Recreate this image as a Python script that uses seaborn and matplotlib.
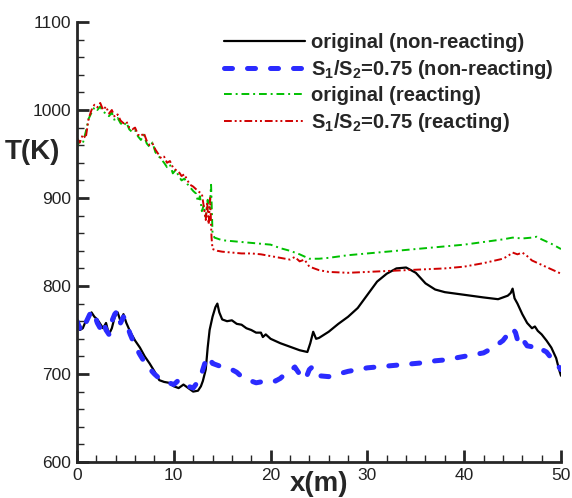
import numpy as np
import pandas as pd
import seaborn as sns
import matplotlib
matplotlib.use("Agg")
import matplotlib.pyplot as plt
from matplotlib.ticker import MultipleLocator

# ---- data: temperature along the channel ----
x_orig_nr = [0, 0.3, 0.6, 0.9, 1.2, 1.5, 1.8, 2.1, 2.4, 2.7, 3.0, 3.3, 3.6, 3.9, 4.2, 4.5, 4.8, 5.1,
             5.5, 6, 6.5, 7, 7.5, 8, 8.5, 9, 9.5, 10, 10.5, 11, 11.5, 12, 12.5, 12.8, 13, 13.3, 13.5,
             13.7, 14, 14.3, 14.5, 14.7, 15, 15.5, 16, 16.5, 17, 17.5, 18, 18.5, 19, 19.2, 19.5, 20,
             21, 22, 23, 23.8, 24.1, 24.4, 24.7, 25, 26, 27, 28, 29, 30, 31, 32, 33, 34, 35, 36, 37,
             38, 40, 42, 43.5, 44.5, 44.8, 45, 45.2, 45.5, 46, 46.5, 47, 47.3, 47.6, 48, 48.5, 49,
             49.5, 49.8, 50]
T_orig_nr = [758, 750, 752, 760, 765, 770, 765, 762, 757, 752, 758, 745, 752, 765, 770, 760, 768, 758,
             748, 738, 730, 720, 712, 703, 693, 691, 690, 686, 684, 688, 684, 680, 681, 686, 692, 705,
             730, 750, 765, 776, 780, 770, 762, 760, 761, 757, 756, 752, 750, 747, 747, 742, 745, 740,
             735, 731, 727, 725, 735, 748, 740, 741, 748, 757, 765, 775, 790, 805, 814, 820, 821, 815,
             803, 796, 793, 790, 787, 785, 789, 792, 797, 786, 780, 768, 758, 752, 754, 749, 745, 738,
             730, 718, 705, 698]

x_s075_nr = [0, 0.3, 0.6, 0.9, 1.2, 1.5, 1.8, 2.1, 2.4, 2.7, 3.0, 3.3, 3.6, 3.9, 4.2, 4.5, 4.8, 5.1,
             5.5, 6, 6.5, 7, 7.5, 8, 8.5, 9, 9.5, 10, 10.5, 11, 11.5, 12, 12.4, 12.8, 13.2, 13.5, 13.8,
             14, 14.5, 15, 15.5, 16, 16.5, 17, 17.5, 18, 18.5, 19, 19.5, 20, 20.5, 21, 21.5, 22, 22.5,
             22.8, 23.2, 23.6, 24, 24.3, 24.6, 25, 26, 27, 28, 29, 30, 31, 32, 33, 34, 35, 36, 37, 38,
             39, 40, 41, 42, 43, 44, 44.5, 45, 45.3, 45.6, 46, 46.5, 47, 47.5, 48, 48.5, 49, 49.5, 50]
T_s075_nr = [760, 752, 762, 758, 765, 772, 768, 758, 752, 760, 750, 745, 760, 768, 772, 758, 765, 758,
             745, 732, 722, 713, 706, 700, 695, 692, 690, 688, 693, 688, 686, 684, 690, 698, 712, 720,
             716, 712, 710, 708, 706, 705, 702, 697, 695, 692, 690, 691, 692, 693, 692, 695, 700, 703,
             708, 703, 697, 694, 705, 708, 700, 698, 697, 700, 703, 705, 707, 708, 709, 710, 711, 712,
             713, 715, 716, 718, 720, 722, 724, 730, 738, 745, 752, 747, 735, 740, 732, 731, 733, 728,
             725, 718, 712, 705]

x_orig_r = [0, 0.3, 0.6, 0.9, 1.2, 1.5, 1.8, 2.1, 2.4, 2.7, 3.0, 3.3, 3.6, 3.9, 4.2, 4.5, 4.8, 5.1,
            5.4, 5.7, 6.0, 6.3, 6.6, 6.9, 7.2, 7.5, 7.8, 8.1, 8.4, 8.7, 9.0, 9.3, 9.6, 9.9, 10.2, 10.5,
            10.8, 11.1, 11.4, 11.7, 12.0, 12.3, 12.5, 12.7, 12.9, 13.1, 13.3, 13.5, 13.7, 13.85, 14.0,
            14.2, 15, 16, 17, 18, 19, 20, 21, 22, 23, 24, 25, 26, 28, 30, 32, 34, 36, 38, 40, 42, 44,
            45, 46, 47, 47.5, 48, 49, 50]
T_orig_r = [958, 965, 962, 975, 990, 997, 1003, 1000, 1004, 998, 996, 993, 997, 988, 991, 985, 982, 986,
            978, 975, 977, 970, 966, 972, 962, 958, 963, 952, 948, 944, 940, 935, 938, 928, 932, 925,
            920, 922, 916, 912, 908, 905, 896, 902, 885, 892, 878, 898, 888, 915, 860,
            855, 852, 851, 850, 849, 848, 847, 843, 840, 836, 831, 831, 832, 835, 837, 839, 841, 843,
            845, 847, 850, 853, 855, 854, 855, 856, 853, 848, 842]

x_s075_r = [0, 0.3, 0.6, 0.9, 1.2, 1.5, 1.8, 2.1, 2.4, 2.7, 3.0, 3.3, 3.6, 3.9, 4.2, 4.5, 4.8, 5.1,
            5.4, 5.7, 6.0, 6.3, 6.6, 6.9, 7.2, 7.5, 7.8, 8.1, 8.4, 8.7, 9.0, 9.3, 9.6, 9.9, 10.2, 10.5,
            10.8, 11.1, 11.4, 11.7, 12.0, 12.3, 12.6, 12.9, 13.1, 13.3, 13.45, 13.6, 13.75, 13.9, 14.0,
            14.5, 15, 16, 17, 18, 19, 20, 21, 22, 22.5, 23, 23.5, 24, 25, 26, 28, 30, 32, 34, 36, 38,
            40, 42, 44, 44.5, 45, 45.5, 46, 46.5, 47, 48, 49, 50]
T_s075_r = [968, 963, 972, 968, 990, 1000, 1006, 1003, 1008, 1000, 1004, 996, 1000, 992, 995, 988, 985,
            987, 980, 978, 980, 972, 970, 974, 965, 960, 962, 955, 950, 945, 947, 940, 942, 935, 932,
            930, 925, 927, 920, 915, 913, 910, 907, 905, 890, 875, 895, 870, 900, 855, 842,
            840, 839, 838, 837, 837, 836, 834, 832, 830, 833, 828, 830, 822, 818, 816, 815, 816, 817,
            818, 819, 820, 822, 826, 831, 834, 838, 836, 838, 834, 829, 824, 819, 814]

labels = ["original (non-reacting)",
          "S$_1$/S$_2$=0.75 (non-reacting)",
          "original (reacting)",
          "S$_1$/S$_2$=0.75 (reacting)"]

sns.set_style("ticks")
plt.rcParams["font.family"] = ["Liberation Sans", "DejaVu Sans"]
plt.rcParams["mathtext.fontset"] = "custom"
plt.rcParams["mathtext.rm"] = "Liberation Sans:bold"
plt.rcParams["mathtext.it"] = "Liberation Sans:bold"
plt.rcParams["mathtext.bf"] = "Liberation Sans:bold"

fig = plt.figure(figsize=(5.72, 4.98), dpi=100)
ax = fig.add_axes([0.1346, 0.0723, 0.8462, 0.8835])

series = [
    (x_orig_nr, T_orig_nr, dict(color="black", lw=1.6, ls="-")),
    (x_s075_nr, T_s075_nr, dict(color="#2b2bff", lw=3.6, ls=(0, (1.6, 3.0)),
                                dash_capstyle="round")),
    (x_orig_r, T_orig_r, dict(color="#00c000", lw=1.4, ls=(0, (4, 2, 1, 2)))),
    (x_s075_r, T_s075_r, dict(color="#d00000", lw=1.4, ls=(0, (4, 1.5, 1, 1.5, 1, 1.5)))),
]
for (xs, ts, style), lab in zip(series, labels):
    df = pd.DataFrame({"x": xs, "T": ts})
    sns.lineplot(data=df, x="x", y="T", ax=ax, estimator=None, sort=False, label=lab, **style)

ax.set_xlim(0, 50)
ax.set_ylim(600, 1100)
ax.xaxis.set_major_locator(MultipleLocator(10))
ax.xaxis.set_minor_locator(MultipleLocator(2))
ax.yaxis.set_major_locator(MultipleLocator(100))
ax.yaxis.set_minor_locator(MultipleLocator(20))
ax.tick_params(which="major", direction="in", length=8.6, width=2.0, labelsize=12.5,
               labelcolor="#222222", pad=4)
ax.tick_params(which="minor", direction="in", length=5, width=1.0)
for side in ("top", "right"):
    ax.spines[side].set_visible(False)
for side in ("left", "bottom"):
    ax.spines[side].set_linewidth(2.0)

ax.set_xlabel("x(m)", fontsize=20, fontweight="bold")
ax.xaxis.set_label_coords(0.5, -0.05)
ax.xaxis.label.set_verticalalignment("center")
ax.set_ylabel("T(K)", fontsize=20, fontweight="bold", rotation=0)
ax.yaxis.set_label_coords(-0.092, 0.705)
ax.yaxis.label.set_verticalalignment("center")
ax.yaxis.label.set_horizontalalignment("center")

leg = ax.legend(loc="upper left", bbox_to_anchor=(0.303, 0.975), frameon=False,
                prop={"weight": "bold", "size": 14.5}, handlelength=4.05, handletextpad=0.3,
                labelspacing=0.28, borderpad=0, borderaxespad=0)

fig.savefig("out.png", dpi=100)
